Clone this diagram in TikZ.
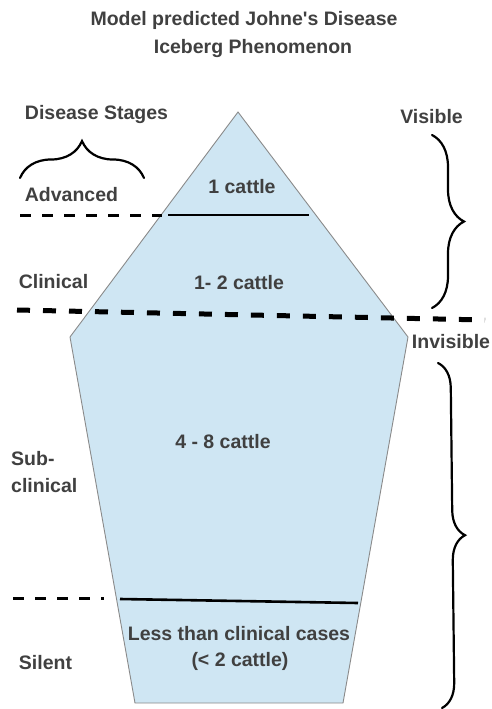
\documentclass[tikz,border=0pt]{standalone}
\usepackage{fontspec}
\setmainfont{Liberation Sans}[Ligatures=TeXOff]
\usetikzlibrary{decorations.pathreplacing}
\definecolor{txt}{HTML}{404040}
\definecolor{ice}{HTML}{CFE6F3}
\definecolor{edge}{HTML}{8A8A8A}
\begin{document}
\begin{tikzpicture}[x=1pt,y=-1pt,
  lbl/.style={font=\bfseries\fontsize{19.5}{28}\selectfont, text=txt, inner sep=0pt, anchor=base},
  thindash/.style={line width=3pt, dash pattern=on 11pt off 11pt},
  thickdash/.style={line width=5pt, dash pattern=on 13pt off 13pt},
  solidline/.style={line width=2.6pt},
  bracestyle/.style={line width=2.2pt, decorate, line cap=round}]
\useasboundingbox (0,0) rectangle (491,709);
% iceberg
\coordinate (apex) at (238,112);
\coordinate (rv) at (408,337);
\coordinate (br) at (343,703);
\coordinate (bl) at (135,703);
\coordinate (lv) at (70,337);
\filldraw[fill=ice, draw=edge, line width=0.9pt] (apex) -- (rv) -- (br) -- (bl) -- (lv) -- cycle;
% stage lines
\coordinate (d1a) at (20,215);
\coordinate (d1b) at (162,215);
\coordinate (s1a) at (168,215);
\coordinate (s1b) at (309,215);
\draw[thindash] (d1a) -- (d1b);
\draw[solidline] (s1a) -- (s1b);
\coordinate (d2a) at (17,310);
\coordinate (d2b) at (485,320);
\draw[thickdash] (d2a) -- (d2b);
\coordinate (d3a) at (13,598);
\coordinate (d3b) at (104,598);
\coordinate (s3a) at (120,599);
\coordinate (s3b) at (358,603);
\draw[thindash] (d3a) -- (d3b);
\draw[solidline] (s3a) -- (s3b);
% braces
\coordinate (lb1) at (20,178);
\coordinate (lb2) at (144,178);
\draw[bracestyle, decoration={brace, amplitude=37pt}] (lb1) -- (lb2);
\coordinate (vb1) at (432,135);
\coordinate (vb2) at (432,308);
\draw[bracestyle, decoration={brace, amplitude=32pt}] (vb1) -- (vb2);
\coordinate (ib1) at (438,363);
\coordinate (ib2) at (442,708);
\draw[bracestyle, decoration={brace, amplitude=25pt}] (ib1) -- (ib2);
% texts
\node[lbl] (t1) at (244,26) {Model predicted Johne's Disease};
\node[lbl] (t2) at (253,53) {Iceberg Phenomenon};
\node[lbl] (stages) at (96.5,119) {Disease Stages};
\node[lbl] (adv) at (71.5,201) {Advanced};
\node[lbl] (clin) at (53.5,288) {Clinical};
\node[lbl, anchor=base west] (sub1) at (11,465) {Sub-};
\node[lbl, anchor=base west] (sub2) at (11,492) {clinical};
\node[lbl] (sil) at (45.5,669) {Silent};
\node[lbl] (c1) at (242,193) {1 cattle};
\node[lbl] (c2) at (239,289) {1- 2 cattle};
\node[lbl] (c3) at (223,448) {4 - 8 cattle};
\node[lbl] (c4) at (239,640) {Less than clinical cases};
\node[lbl] (c5) at (240,666) {(< 2 cattle)};
\node[lbl] (vis) at (431.5,123) {Visible};
\node[lbl] (invis) at (451,348) {Invisible};
\end{tikzpicture}
\end{document}
